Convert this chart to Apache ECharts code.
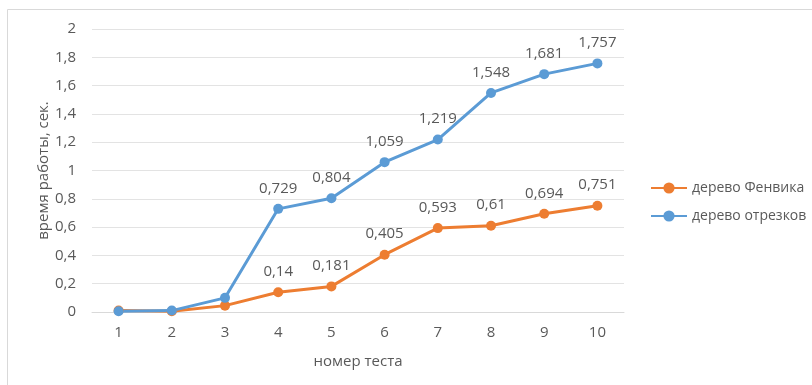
<!DOCTYPE html>
<html style="height: 100%">
<head>
    <meta charset="utf-8">
</head>
<body style="height: 100%; margin: 0; background: #fff">
<div id="container" style="width: 812px; height: 385px"></div>
<script type="text/javascript" src="https://cdn.jsdelivr.net/npm/echarts@6/dist/echarts.min.js"></script>
<script type="text/javascript">
  const tests = ['1', '2', '3', '4', '5', '6', '7', '8', '9', '10'];
  const fenwick = [0.01, 0.005, 0.045, 0.14, 0.181, 0.405, 0.593, 0.61, 0.694, 0.751];
  const segTree = [0.005, 0.01, 0.1, 0.729, 0.804, 1.059, 1.219, 1.548, 1.681, 1.757];
  // подписи только начиная с 4-го теста
  const labelFrom = 3;

  const textColor = '#595959';
  const font = 'Open Sans';

  const withLabels = (values) => values.map((v, i) => ({
    value: v,
    label: { show: i >= labelFrom }
  }));

  const fmt = (p) => String(p.value).replace('.', ',');

  var dom = document.getElementById('container');
  var myChart = echarts.init(dom);
  var option = {
    animation: false,
    textStyle: { fontFamily: font },
    graphic: [
      { type: 'line', shape: { x1: 7.5, y1: 9.5, x2: 812, y2: 9.5 }, style: { stroke: '#d9d9d9', lineWidth: 1 } },
      { type: 'line', shape: { x1: 7.5, y1: 9.5, x2: 7.5, y2: 385 }, style: { stroke: '#d9d9d9', lineWidth: 1 } }
    ],
    grid: { left: 92, top: 29, width: 532, height: 283 },
    legend: {
      orient: 'vertical',
      left: 645,
      top: 176,
      itemWidth: 36,
      itemHeight: 14,
      itemGap: 14,
      textStyle: { color: textColor, fontSize: 14, fontFamily: font },
      data: ['дерево Фенвика', 'дерево отрезков']
    },
    xAxis: {
      type: 'category',
      data: tests,
      boundaryGap: true,
      name: 'номер теста',
      nameLocation: 'middle',
      nameGap: 42,
      nameTextStyle: { color: textColor, fontSize: 15 },
      axisLine: { lineStyle: { color: '#d9d9d9' } },
      axisTick: { show: false },
      axisLabel: { color: textColor, fontSize: 15, margin: 13 }
    },
    yAxis: {
      type: 'value',
      min: 0,
      max: 2,
      interval: 0.2,
      name: 'время работы, сек.',
      nameLocation: 'middle',
      nameGap: 41,
      nameMoveOverlap: false,
      nameTextStyle: { color: textColor, fontSize: 15 },
      axisLine: { show: false },
      axisTick: { show: false },
      splitLine: { lineStyle: { color: '#e3e3e3' } },
      axisLabel: {
        color: textColor,
        fontSize: 15,
        margin: 16,
        formatter: (v) => String(Math.round(v * 10) / 10).replace('.', ',')
      }
    },
    series: [
      {
        name: 'дерево Фенвика',
        type: 'line',
        data: withLabels(fenwick),
        symbol: 'circle',
        symbolSize: 10,
        lineStyle: { width: 3, color: '#ed7d31' },
        itemStyle: { color: '#ed7d31' },
        label: { position: 'top', distance: 8, color: textColor, fontSize: 15, formatter: fmt }
      },
      {
        name: 'дерево отрезков',
        type: 'line',
        data: withLabels(segTree),
        symbol: 'circle',
        symbolSize: 10,
        lineStyle: { width: 3, color: '#5b9bd5' },
        itemStyle: { color: '#5b9bd5' },
        label: { position: 'top', distance: 8, color: textColor, fontSize: 15, formatter: fmt }
      }
    ]
  };
  myChart.setOption(option);
</script>
</body>
</html>
